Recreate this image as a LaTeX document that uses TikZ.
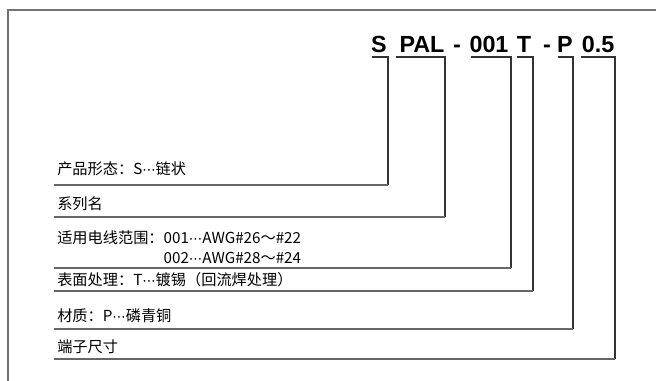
\documentclass[tikz,border=0pt]{standalone}
\usepackage{fontspec}
\setmainfont{Liberation Sans}
\newfontfamily\cjk{Noto Sans CJK SC}
\newfontfamily\titlefont{Liberation Sans}
\newfontfamily\dv{DejaVu Sans}
\newcommand\mdots{{\dv\fontsize{10}{12}\selectfont ⋯}}
\begin{document}
\begin{tikzpicture}[x=0.75pt,y=-0.75pt,
  frame/.style={draw=black!55,line width=1.1pt},
  bracket/.style={draw=black!80,line width=0.8pt},
  uline/.style={draw=black!60,line width=1.1pt},
  label/.style={anchor=west,inner sep=0pt,font=\cjk\fontsize{11.4}{14}\selectfont},
  title/.style={anchor=base,inner sep=0pt,font=\titlefont\bfseries\fontsize{17.5}{20}\selectfont}]
\useasboundingbox (0,0) rectangle (656,381);
% open frame
\draw[frame] (8,381) -- (8,10) -- (656,10);
% title parts
\node[title] (tS)   at (379,53) {S};
\node[title] (tPAL) at (422,53) {PAL};
\node[title] (td1)  at (457,53) {-};
\node[title] (t001) at (489,53) {001};
\node[title] (tT)   at (524,53) {T};
\node[title] (td2)  at (547,53) {-};
\node[title] (tP)   at (565,53) {P};
\node[title] (t05)  at (598,53) {0.5};
% labels
\node[label] (l1) at (57,169) {产品形态：S\mdots 链状};
\node[label] (l2) at (57,204) {系列名};
\node[label,align=left] (l3) at (57,248) {适用电线范围：001\mdots AWG\#26～\#22\\[1pt]\phantom{适用电线范围：}002\mdots AWG\#28～\#24};
\node[label] (l4) at (57,280) {表面处理：T\mdots 镀锡（回流焊处理）};
\node[label] (l5) at (57,316) {材质：P\mdots 磷青铜};
\node[label] (l6) at (57,347) {端子尺寸};
% bracket coordinates
\coordinate (s1) at (372,57);  \coordinate (s2) at (388,57);
\coordinate (p1) at (396,57);  \coordinate (p2) at (445,57);
\coordinate (n1) at (471,57);  \coordinate (n2) at (511,57);
\coordinate (t1) at (517,57);  \coordinate (t2) at (533,57);
\coordinate (q1) at (558,57);  \coordinate (q2) at (573,57);
\coordinate (z1) at (581,57);  \coordinate (z2) at (615,57);
% underline corners
\coordinate (u1) at (388,185); \coordinate (e1) at (54,185);
\coordinate (u2) at (445,217); \coordinate (e2) at (54,217);
\coordinate (u3) at (511,268); \coordinate (e3) at (54,268);
\coordinate (u4) at (533,291); \coordinate (e4) at (54,291);
\coordinate (u5) at (573,329); \coordinate (e5) at (54,329);
\coordinate (u6) at (615,359); \coordinate (e6) at (54,359);
% brackets
\draw[bracket] (s1) -- (s2) -- (u1);
\draw[bracket] (p1) -- (p2) -- (u2);
\draw[bracket] (n1) -- (n2) -- (u3);
\draw[bracket] (t1) -- (t2) -- (u4);
\draw[bracket] (q1) -- (q2) -- (u5);
\draw[bracket] (z1) -- (z2) -- (u6);
% underlines
\draw[uline] (e1) -- (u1);
\draw[uline] (e2) -- (u2);
\draw[uline] (e3) -- (u3);
\draw[uline] (e4) -- (u4);
\draw[uline] (e5) -- (u5);
\draw[uline] (e6) -- (u6);
\end{tikzpicture}
\end{document}
